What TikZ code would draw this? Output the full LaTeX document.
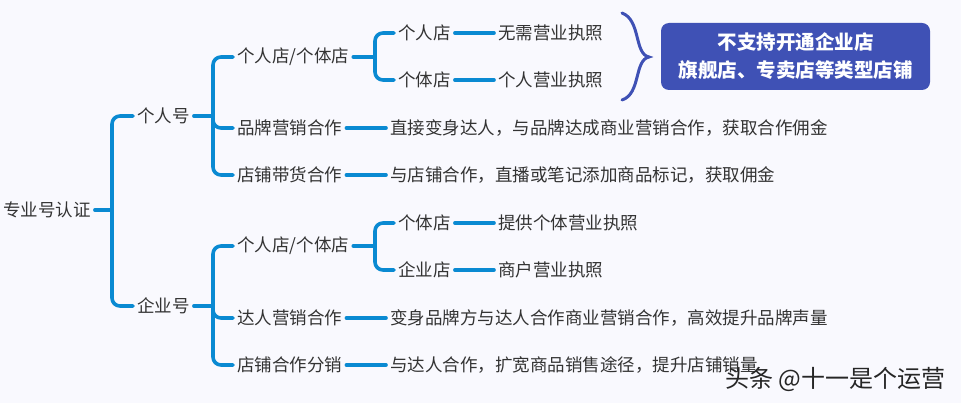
\documentclass[tikz,border=0pt]{standalone}
\usepackage{fontspec}
\setmainfont{Noto Sans CJK SC}
\usetikzlibrary{positioning}

\definecolor{linkblue}{HTML}{0A8AD2}
\definecolor{noteblue}{HTML}{3F51B5}
\definecolor{inkgray}{HTML}{333333}
\definecolor{paper}{HTML}{F9F9FE}

\begin{document}
\begin{tikzpicture}[x=1pt,y=-1pt,
  topic/.style={anchor=west,inner xsep=4pt,inner ysep=2pt,text=inkgray,font=\fontsize{17.5}{20}\selectfont},
  branch/.style={draw=linkblue,line width=3.6pt,line cap=round,rounded corners=8pt},
  notebox/.style={fill=noteblue,rounded corners=8pt,minimum width=269pt,minimum height=67pt,
    text=white,align=center,font=\fontsize{19.5}{28}\selectfont\bfseries}]
\path[use as bounding box,fill=paper] (0,0) rectangle (961,403);

\node[topic] (root) at (-1,210) {专业号认证};
\coordinate (jroot) at (112,210);

\node[topic] (pers) at (133,116) {个人号};
\coordinate (jpers) at (213,116);
\node[topic] (pshop) at (233,57) {个人店/个体店};
\coordinate (jpshop) at (375,57);
\node[topic] (pshopa) at (394,33) {个人店};
\node[topic] (pshopb) at (394,80) {个体店};
\node[topic] (plica) at (494,33) {无需营业执照};
\node[topic] (plicb) at (494,80) {个人营业执照};
\node[topic] (pbrand) at (233,128) {品牌营销合作};
\node[topic] (pbrandx) at (386,128) {直接变身达人，与品牌达成商业营销合作，获取合作佣金};
\node[topic] (psell) at (233,175) {店铺带货合作};
\node[topic] (psellx) at (386,175) {与店铺合作，直播或笔记添加商品标记，获取佣金};

\node[topic] (corp) at (133,306) {企业号};
\coordinate (jcorp) at (213,306);
\node[topic] (cshop) at (233,246) {个人店/个体店};
\coordinate (jcshop) at (375,246);
\node[topic] (cshopa) at (394,223) {个体店};
\node[topic] (cshopb) at (394,270) {企业店};
\node[topic] (clica) at (494,223) {提供个体营业执照};
\node[topic] (clicb) at (494,270) {商户营业执照};
\node[topic] (cbrand) at (233,318) {达人营销合作};
\node[topic] (cbrandx) at (386,318) {变身品牌方与达人合作商业营销合作，高效提升品牌声量};
\node[topic] (csell) at (233,365) {店铺合作分销};
\node[topic] (csellx) at (386,365) {与达人合作，扩宽商品销售途径，提升店铺销量};

\draw[branch] (root.east) -- (jroot);
\draw[branch] (jroot) |- (pers.west);
\draw[branch] (jroot) |- (corp.west);

\draw[branch] (pers.east) -- (jpers);
\draw[branch] (jpers) |- (pshop.west);
\draw[branch] (jpers) |- (pbrand.west);
\draw[branch] (jpers) |- (psell.west);
\draw[branch] (pshop.east) -- (jpshop);
\draw[branch] (jpshop) |- (pshopa.west);
\draw[branch] (jpshop) |- (pshopb.west);
\draw[branch] (pshopa) -- (plica);
\draw[branch] (pshopb) -- (plicb);
\draw[branch] (pbrand) -- (pbrandx);
\draw[branch] (psell) -- (psellx);

\draw[branch] (corp.east) -- (jcorp);
\draw[branch] (jcorp) |- (cshop.west);
\draw[branch] (jcorp) |- (cbrand.west);
\draw[branch] (jcorp) |- (csell.west);
\draw[branch] (cshop.east) -- (jcshop);
\draw[branch] (jcshop) |- (cshopa.west);
\draw[branch] (jcshop) |- (cshopb.west);
\draw[branch] (cshopa) -- (clica);
\draw[branch] (cshopb) -- (clicb);
\draw[branch] (cbrand) -- (cbrandx);
\draw[branch] (csell) -- (csellx);

\draw[noteblue,line width=3pt,line cap=round] (622,13) .. controls (641,20) and (634,54) .. (649,57)
  .. controls (634,60) and (641,94) .. (622,100);
\node[notebox] (note) at (795.5,56.5) {不支持开通企业店\\旗舰店、专卖店等类型店铺};

\node[anchor=west,inner sep=0pt,text=black!85,font=\fontsize{24}{27}\selectfont] (wm) at (725,379) {头条 @十一是个运营};
\end{tikzpicture}
\end{document}
